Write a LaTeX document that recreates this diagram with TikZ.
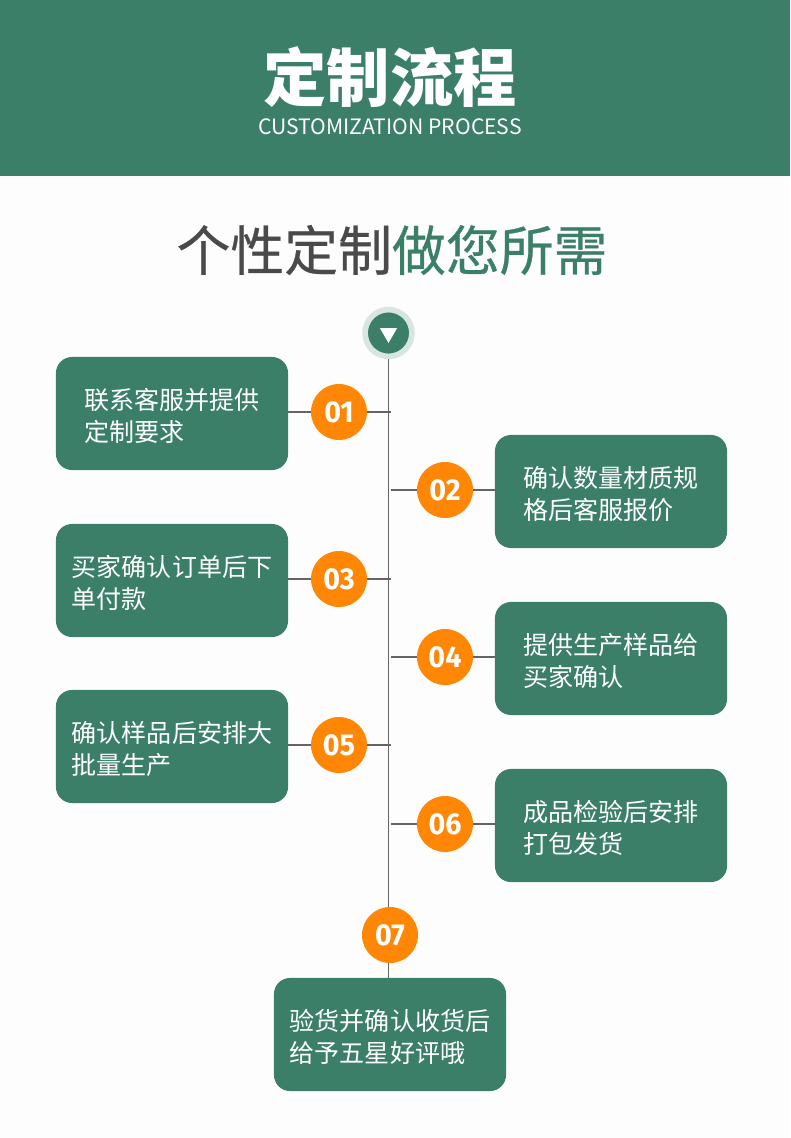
\documentclass[tikz,border=0pt]{standalone}
\usepackage{fontspec}
\usepackage{xcolor}
\setmainfont{Noto Sans CJK SC}
\newfontfamily\headfont[FakeBold=0.5]{Noto Sans CJK SC}
\newfontfamily\numfont[FakeStretch=0.95]{Fira Sans}
\usetikzlibrary{calc, positioning, shapes.geometric}
\definecolor{flowgreen}{RGB}{59, 127, 105}
\definecolor{flowpale}{RGB}{216, 229, 224}
\definecolor{floworange}{RGB}{255, 135, 5}
\definecolor{flowgray}{RGB}{74, 74, 74}
\definecolor{flowline}{RGB}{100, 100, 100}
\definecolor{flowpaper}{RGB}{253, 253, 253}
\newcommand{\stepdrop}{\rule{0pt}{18.5pt}}

\begin{document}
\begin{tikzpicture}[
	x=0.025cm, y=-0.025cm,
	stepbox/.style={fill=flowgreen, rounded corners=0.4cm, text=white,
		minimum width=5.8cm, minimum height=2.825cm, align=left, inner sep=0pt,
		font=\fontsize{17.8}{22.75}\selectfont},
	numdot/.style={circle, fill=floworange, text=white, minimum size=1.4cm,
		inner sep=0pt, font=\numfont\fontsize{21.5}{21.5}\selectfont\bfseries},
	link/.style={draw=flowline, line width=1pt}
	]
	\useasboundingbox (0,0) rectangle (790,1138);
	\fill[flowpaper] (0,0) rectangle (790,1138);
	\fill[flowgreen] (0,0) rectangle (790,176);
	
	\node[text=white, font=\fontsize{45}{45}\selectfont\bfseries] (title) at (390,77) {定制流程};
	\node[text=white, font=\fontsize{15.05}{15}\selectfont] (subtitle) at (390,127) {CUSTOMIZATION PROCESS};
	\node[text=flowgray, font=\headfont\fontsize{38.3}{38}\selectfont] (heading) at (392,250)
	{个性定制\textcolor{flowgreen}{做您所需}};
	
	\node[circle, fill=flowgreen, draw=flowpale, line width=4pt, minimum size=1.17cm, inner sep=0pt] (top) at (388.5,333) {};
	\node[regular polygon, regular polygon sides=3, shape border rotate=180, fill=white,
	minimum size=0.5cm, inner sep=0pt] (arrowhead) at (388.5,333) {};
	
	\node[stepbox] (box1) at (172,413.5) {\stepdrop 联系客服并提供\\定制要求};
	\node[stepbox] (box2) at (611,491.5) {\stepdrop 确认数量材质规\\格后客服报价};
	\node[stepbox] (box3) at (172,580.5) {\stepdrop 买家确认订单后下\\单付款};
	\node[stepbox] (box4) at (611,658.5) {\stepdrop 提供生产样品给\\买家确认};
	\node[stepbox] (box5) at (172,746.5) {\stepdrop 确认样品后安排大\\批量生产};
	\node[stepbox] (box6) at (611,825.5) {\stepdrop 成品检验后安排\\打包发货};
	\node[stepbox] (box7) at (390,1034.5) {\stepdrop 验货并确认收货后\\给予五星好评哦};
	
	\node[numdot] (num1) at (339,412) {01};
	\node[numdot] (num2) at (445,490) {02};
	\node[numdot] (num3) at (339,579) {03};
	\node[numdot] (num4) at (445,657) {04};
	\node[numdot] (num5) at (339,745) {05};
	\node[numdot] (num6) at (445,824) {06};
	\node[numdot] (num7) at (390,935) {07};
	
	\draw[link] (top) -- (top |- num7.north);
	\draw[link] (top |- num7.south) -- (top |- box7.north);
	\draw[link] (box1.east |- num1) -- (num1);
	\draw[link] (num1) -- ($(num1 -| top)+(2,0)$);
	\draw[link] (num2) -- ($(num2 -| top)+(2.5,0)$);
	\draw[link] (num2) -- (box2.west |- num2);
	\draw[link] (box3.east |- num3) -- (num3);
	\draw[link] (num3) -- ($(num3 -| top)+(2,0)$);
	\draw[link] (num4) -- ($(num4 -| top)+(2.5,0)$);
	\draw[link] (num4) -- (box4.west |- num4);
	\draw[link] (box5.east |- num5) -- (num5);
	\draw[link] (num5) -- ($(num5 -| top)+(2,0)$);
	\draw[link] (num6) -- ($(num6 -| top)+(2.5,0)$);
	\draw[link] (num6) -- (box6.west |- num6);
\end{tikzpicture}
\end{document}
